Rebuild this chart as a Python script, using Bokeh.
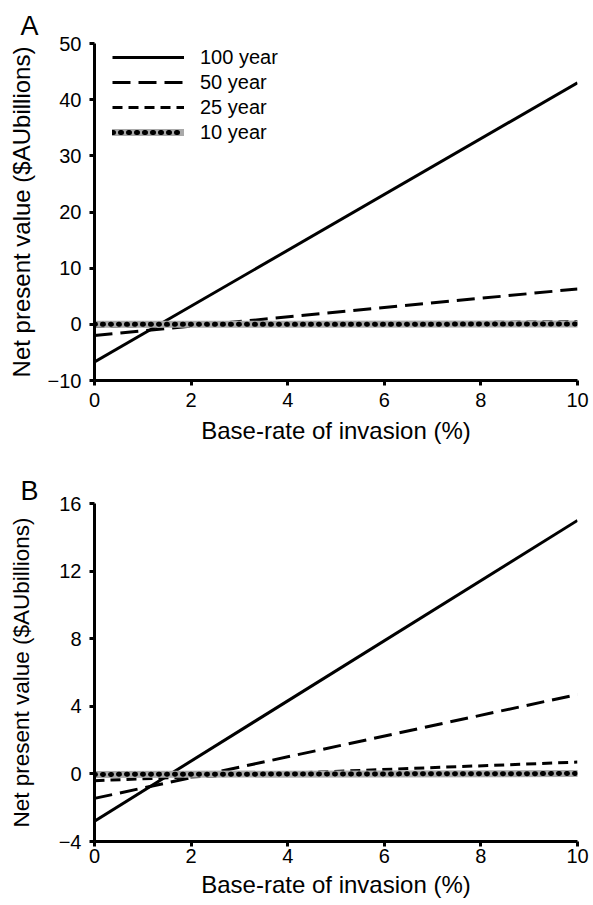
from bokeh.plotting import figure
from bokeh.models import Legend, LegendItem, FixedTicker, Range1d, Title
from bokeh.layouts import column
from bokeh.embed import file_html
from bokeh.resources import INLINE

# ---- data ----
base_rate = [0, 10]

a_100 = [-6.7, 43.0]
a_50 = [-2.0, 6.3]
a_25 = [-0.35, 0.5]
a_10 = [0.0, 0.05]

b_100 = [-2.8, 15.0]
b_50 = [-1.45, 4.7]
b_25 = [-0.4, 0.7]
b_10 = [-0.03, 0.02]

x_ticks = [0, 2, 4, 6, 8, 10]
a_y_ticks = [-10, 0, 10, 20, 30, 40, 50]
b_y_ticks = [-4, 0, 4, 8, 12, 16]

series_names = ["100 year", "50 year", "25 year", "10 year"]

FONT = "Liberation Sans"
FIG_W = 593


def make_panel(letter, ys, yticks, height, border_top, border_bottom,
               legend, ylab_size, ylab_standoff, xlab_standoff, xtick_standoff, title_standoff):
    p = figure(width=FIG_W, height=height, output_backend="svg", toolbar_location=None,
               x_range=Range1d(0, 10), y_range=Range1d(yticks[0], yticks[-1]),
               min_border_left=94, min_border_top=border_top,
               min_border_bottom=border_bottom, min_border_right=16)
    p.outline_line_color = None
    p.grid.visible = False
    p.background_fill_color = "white"
    p.border_fill_color = "white"

    t = Title(text=letter, align="left", offset=-74, standoff=title_standoff,
              text_font=FONT, text_font_size="27px", text_font_style="normal",
              text_color="black")
    p.add_layout(t, "above")

    for ax in (p.xaxis[0], p.yaxis[0]):
        ax.axis_line_width = 3
        ax.axis_line_color = "black"
        ax.major_tick_line_width = 3
        ax.major_tick_line_color = "black"
        ax.major_tick_out = 5
        ax.major_tick_in = 0
        ax.minor_tick_out = 0
        ax.minor_tick_in = 0
        ax.major_label_text_font = FONT
        ax.major_label_text_font_size = "20px"
        ax.major_label_text_color = "black"
        ax.axis_label_text_font = FONT
        ax.axis_label_text_font_style = "normal"
        ax.axis_label_text_color = "black"
    p.xaxis.axis_label_text_font_size = "24px"
    p.yaxis.axis_label_text_font_size = ylab_size
    p.xaxis.ticker = FixedTicker(ticks=x_ticks)
    p.yaxis.ticker = FixedTicker(ticks=yticks)
    p.xaxis.axis_label = "Base-rate of invasion (%)"
    p.yaxis.axis_label = "Net present value ($AUbillions)"
    p.xaxis.major_label_standoff = xtick_standoff
    p.yaxis.major_label_standoff = 8
    p.xaxis.axis_label_standoff = xlab_standoff
    p.yaxis.axis_label_standoff = ylab_standoff

    r100 = p.line(base_rate, ys[0], line_color="black", line_width=3)
    r50 = p.line(base_rate, ys[1], line_color="black", line_width=3, line_dash="18 8")
    r25 = p.line(base_rate, ys[2], line_color="black", line_width=3, line_dash="10 6")
    r10g = p.line(base_rate, ys[3], line_color="#a9a9a9", line_width=7, line_cap="round")
    r10d = p.line(base_rate, ys[3], line_color="black", line_width=5, line_dash="1 7", line_cap="round")

    if legend:
        frame_h = height - border_top - border_bottom
        leg = Legend(items=[
            LegendItem(label=series_names[0], renderers=[r100]),
            LegendItem(label=series_names[1], renderers=[r50]),
            LegendItem(label=series_names[2], renderers=[r25]),
            LegendItem(label=series_names[3], renderers=[r10g, r10d]),
        ])
        leg.location = (18, frame_h - 99 - 2)
        leg.padding = 0
        leg.margin = 0
        leg.spacing = 1
        leg.glyph_height = 24
        leg.glyph_width = 72
        leg.label_standoff = 16
        leg.label_width = 110
        leg.label_height = 24
        leg.label_text_font = FONT
        leg.label_text_font_size = "20px"
        leg.label_text_color = "black"
        leg.border_line_alpha = 0
        leg.background_fill_alpha = 0
        p.add_layout(leg, "center")

    return p


pa = make_panel("A", [a_100, a_50, a_25, a_10], a_y_ticks, 448, 43, 68, True,
                ylab_size="24px", ylab_standoff=10, xlab_standoff=7, xtick_standoff=7,
                title_standoff=5)
pb = make_panel("B", [b_100, b_50, b_25, b_10], b_y_ticks, 455, 55, 62, False,
                ylab_size="22.5px", ylab_standoff=22, xlab_standoff=5, xtick_standoff=2,
                title_standoff=-5)

layout = column(pa, pb, spacing=0)
open("out.html", "w").write(file_html(layout, INLINE))
